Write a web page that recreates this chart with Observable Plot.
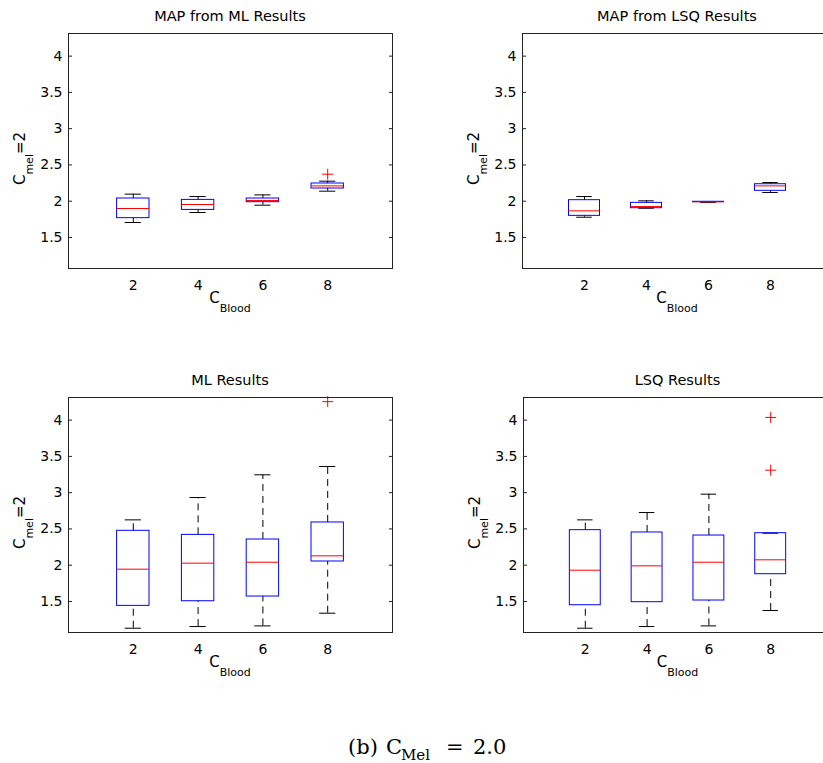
<!DOCTYPE html>
<html>
<head>
<meta charset="utf-8">
<script src="https://cdn.jsdelivr.net/npm/d3@7"></script>
<script src="https://cdn.jsdelivr.net/npm/@observablehq/plot@0.6"></script>
<style>
  body { margin: 0; background: #fff; }
  #page { position: relative; width: 823px; height: 763px; overflow: hidden; background: #fff; }
  .panel { position: absolute; }
  .panel svg { overflow: visible; max-width: none !important; height: auto; }
</style>
</head>
<body>
<div id="page"></div>
<script>
// Blood concentration groups (x categories)
const cBlood = [2, 4, 6, 8];
const yTicks = [1.5, 2, 2.5, 3, 3.5, 4];

// MAP from ML results: whisker ends, quartiles, medians, outliers
const mapMlLow  = [1.706, 1.844, 1.945, 2.138];
const mapMlQ1   = [1.766, 1.880, 1.986, 2.175];
const mapMlMed  = [1.899, 1.954, 2.010, 2.211];
const mapMlQ3   = [2.037, 2.018, 2.037, 2.244];
const mapMlHigh = [2.097, 2.064, 2.087, 2.276];
const mapMlOutX = [8];
const mapMlOutY = [2.372];

// MAP from LSQ results
const mapLsqLow  = [1.779, 1.903, 1.984, 2.120];
const mapLsqQ1   = [1.798, 1.903, 1.988, 2.143];
const mapLsqMed  = [1.867, 1.926, 1.991, 2.211];
const mapLsqQ3   = [2.014, 1.977, 1.992, 2.234];
const mapLsqHigh = [2.064, 2.005, 1.993, 2.257];

// ML results
const mlLow  = [1.131, 1.154, 1.163, 1.338];
const mlQ1   = [1.439, 1.503, 1.568, 2.051];
const mlMed  = [1.945, 2.028, 2.041, 2.129];
const mlQ3   = [2.474, 2.418, 2.354, 2.589];
const mlHigh = [2.625, 2.933, 3.246, 3.361];
const mlOutX = [8];
const mlOutY = [4.255];

// LSQ results
const lsqLow  = [1.131, 1.154, 1.163, 1.375];
const lsqQ1   = [1.448, 1.490, 1.513, 1.876];
const lsqMed  = [1.931, 1.991, 2.041, 2.074];
const lsqQ3   = [2.483, 2.451, 2.409, 2.441];
const lsqHigh = [2.625, 2.726, 2.979, 2.441];
const lsqOutX = [8, 8];
const lsqOutY = [4.037, 3.310];

// "+" marker for outliers
const plusSymbol = {
  draw(context, size) {
    const r = Math.sqrt(size / Math.PI);
    context.moveTo(-r, 0); context.lineTo(r, 0);
    context.moveTo(0, -r); context.lineTo(0, r);
  }
};

const FONT = "'DejaVu Sans', sans-serif";
const page = document.getElementById("page");

function panel({title, left, top, width, marginLeft, marginRight, marginTop, marginBottom,
                low, q1, med, q3, high, outX = [], outY = []}) {
  const stats = cBlood.map((c, i) => ({c, low: low[i], q1: q1[i], med: med[i], q3: q3[i], high: high[i]}));
  const outliers = outX.map((x, i) => ({x, y: outY[i]}));
  const halfBox = 0.5, halfCap = 0.25;
  const dash = "7,5";
  const height = 320;

  const chart = Plot.plot({
    width, height, marginLeft, marginRight, marginTop, marginBottom,
    style: {fontFamily: FONT, fontSize: "14px", color: "#000", background: "transparent"},
    x: {domain: [0, 10]},
    y: {domain: [1.072, 4.312]},
    marks: [
      Plot.axisX(cBlood, {tickSize: 0, tickPadding: 12, tickFormat: d => String(d), fontSize: 14}),
      Plot.axisY(yTicks, {tickSize: -4, tickPadding: 10, tickFormat: d => String(d), fontSize: 14, stroke: "#222"}),
      Plot.axisY(yTicks, {anchor: "right", tickSize: -4, tickFormat: () => "", stroke: "#222"}),
      // whiskers
      Plot.ruleX(stats, {x: "c", y1: "q3", y2: "high", stroke: "#000", strokeDasharray: dash}),
      Plot.ruleX(stats, {x: "c", y1: "low", y2: "q1", stroke: "#000", strokeDasharray: dash}),
      // whisker caps
      Plot.ruleY(stats, {y: "high", x1: d => d.c - halfCap, x2: d => d.c + halfCap, stroke: "#000"}),
      Plot.ruleY(stats, {y: "low", x1: d => d.c - halfCap, x2: d => d.c + halfCap, stroke: "#000"}),
      // boxes
      Plot.rect(stats, {x1: d => d.c - halfBox, x2: d => d.c + halfBox, y1: "q1", y2: "q3", stroke: "#0000ff", fill: "none"}),
      // medians
      Plot.ruleY(stats, {y: "med", x1: d => d.c - halfBox, x2: d => d.c + halfBox, stroke: "#ff0000"}),
      // outliers
      Plot.dot(outliers, {x: "x", y: "y", symbol: plusSymbol, r: 5.5, stroke: "#ff0000", fill: "none", strokeWidth: 1}),
      Plot.frame({stroke: "#222"})
    ]
  });
  chart.style.width = width + "px";
  chart.style.height = height + "px";

  const svg = d3.select(chart);
  const [x0, x1] = chart.scale("x").range;
  const [yb, yt] = chart.scale("y").range;
  const cx = (x0 + x1) / 2;
  const cy = (yb + yt) / 2;

  svg.append("text")
    .attr("x", cx).attr("y", yt - 12)
    .attr("text-anchor", "middle")
    .attr("font-family", FONT).attr("font-size", 14.5)
    .text(title);

  const xl = svg.append("text")
    .attr("x", cx).attr("y", yb + 35)
    .attr("text-anchor", "middle")
    .attr("font-family", FONT).attr("font-size", 15);
  xl.append("tspan").text("C");
  xl.append("tspan").attr("dy", 9).attr("font-size", 11).text("Blood");

  const yl = svg.append("text")
    .attr("transform", `translate(${x0 - 43},${cy + 8}) rotate(-90)`)
    .attr("text-anchor", "middle")
    .attr("font-family", FONT).attr("font-size", 15);
  yl.append("tspan").text("C");
  yl.append("tspan").attr("dy", 8).attr("font-size", 11).text("mel");
  yl.append("tspan").attr("dy", -8).text("=2");

  const div = document.createElement("div");
  div.className = "panel";
  div.style.left = left + "px";
  div.style.top = top + "px";
  div.style.width = width + "px";
  div.style.height = height + "px";
  div.appendChild(chart);
  page.appendChild(div);
}

panel({title: "MAP from ML Results", left: 0, top: 0, width: 410,
  marginLeft: 68, marginRight: 18, marginTop: 33, marginBottom: 52,
  low: mapMlLow, q1: mapMlQ1, med: mapMlMed, q3: mapMlQ3, high: mapMlHigh, outX: mapMlOutX, outY: mapMlOutY});

panel({title: "MAP from LSQ Results", left: 420, top: 0, width: 420,
  marginLeft: 102, marginRight: 8, marginTop: 33, marginBottom: 52,
  low: mapLsqLow, q1: mapLsqQ1, med: mapLsqMed, q3: mapLsqQ3, high: mapLsqHigh});

panel({title: "ML Results", left: 0, top: 360, width: 410,
  marginLeft: 68, marginRight: 18, marginTop: 37, marginBottom: 48,
  low: mlLow, q1: mlQ1, med: mlMed, q3: mlQ3, high: mlHigh, outX: mlOutX, outY: mlOutY});

panel({title: "LSQ Results", left: 420, top: 360, width: 420,
  marginLeft: 103, marginRight: 8, marginTop: 37, marginBottom: 48,
  low: lsqLow, q1: lsqQ1, med: lsqMed, q3: lsqQ3, high: lsqHigh, outX: lsqOutX, outY: lsqOutY});

// Caption
const cap = d3.select(page).append("svg")
  .attr("width", 823).attr("height", 43)
  .style("position", "absolute").style("left", "0px").style("top", "720px")
  .attr("font-family", "'DejaVu Serif', serif").attr("fill", "#000");
cap.append("text").attr("x", 348).attr("y", 34).attr("font-size", 21).text("(b)");
cap.append("text").attr("x", 386).attr("y", 34).attr("font-size", 21).text("C");
cap.append("text").attr("x", 401).attr("y", 40).attr("font-size", 15).text("Mel");
cap.append("text").attr("x", 446).attr("y", 34).attr("font-size", 21).text("=");
cap.append("text").attr("x", 473).attr("y", 34).attr("font-size", 21).text("2.0");
</script>
</body>
</html>
